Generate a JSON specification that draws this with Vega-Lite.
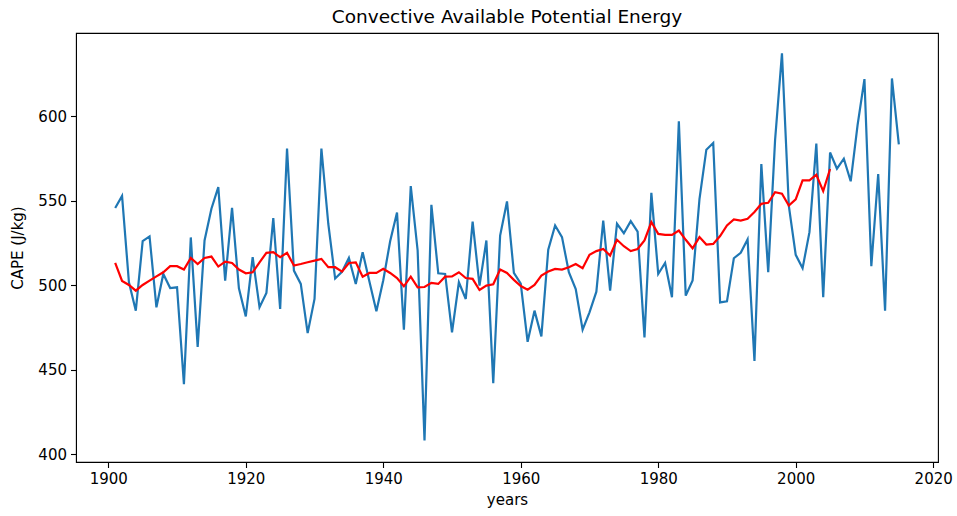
{
  "$schema": "https://vega.github.io/schema/vega-lite/v6.json",
  "width": 862,
  "height": 429,
  "autosize": {"type": "none"},
  "padding": {"left": 76, "top": 33, "right": 19, "bottom": 54},
  "background": "white",
  "title": {"text": "Convective Available Potential Energy", "fontSize": 18.5, "fontWeight": "normal", "font": "DejaVu Sans", "color": "black", "anchor": "middle", "offset": 7},
  "config": {
    "view": {"stroke": "black", "strokeWidth": 1.1},
    "axis": {
      "labelFont": "DejaVu Sans", "labelFontSize": 15, "labelColor": "black",
      "titleFont": "DejaVu Sans", "titleFontSize": 15, "titleFontWeight": "normal", "titleColor": "black",
      "domainColor": "black", "tickColor": "black", "tickSize": 5.5, "tickWidth": 1.1, "labelPadding": 4,
      "grid": false
    }
  },
  "datasets": {
    "cape": [
      {"year":1901,"cape":545.7},{"year":1902,"cape":552.8},{"year":1903,"cape":501.8},{"year":1904,"cape":485.0},{"year":1905,"cape":526.1},
      {"year":1906,"cape":528.9},{"year":1907,"cape":487.0},{"year":1908,"cape":506.7},{"year":1909,"cape":498.4},{"year":1910,"cape":498.8},
      {"year":1911,"cape":441.5},{"year":1912,"cape":528.3},{"year":1913,"cape":463.6},{"year":1914,"cape":526.5},{"year":1915,"cape":545.3},
      {"year":1916,"cape":558.1},{"year":1917,"cape":502.8},{"year":1918,"cape":545.8},{"year":1919,"cape":498.2},{"year":1920,"cape":481.6},
      {"year":1921,"cape":516.6},{"year":1922,"cape":487.0},{"year":1923,"cape":495.5},{"year":1924,"cape":539.7},{"year":1925,"cape":486.0},
      {"year":1926,"cape":580.8},{"year":1927,"cape":508.7},{"year":1928,"cape":500.8},{"year":1929,"cape":471.7},{"year":1930,"cape":491.9},
      {"year":1931,"cape":580.8},{"year":1932,"cape":536.4},{"year":1933,"cape":504.0},{"year":1934,"cape":508.0},{"year":1935,"cape":516.2},
      {"year":1936,"cape":500.8},{"year":1937,"cape":519.6},{"year":1938,"cape":502.0},{"year":1939,"cape":484.6},{"year":1940,"cape":503.0},
      {"year":1941,"cape":526.0},{"year":1942,"cape":543.0},{"year":1943,"cape":473.7},{"year":1944,"cape":558.7},{"year":1945,"cape":520.6},
      {"year":1946,"cape":408.3},{"year":1947,"cape":547.6},{"year":1948,"cape":507.1},{"year":1949,"cape":506.7},{"year":1950,"cape":472.1},
      {"year":1951,"cape":501.8},{"year":1952,"cape":491.9},{"year":1953,"cape":537.7},{"year":1954,"cape":499.8},{"year":1955,"cape":526.5},
      {"year":1956,"cape":442.1},{"year":1957,"cape":529.4},{"year":1958,"cape":549.6},{"year":1959,"cape":507.4},{"year":1960,"cape":501.0},
      {"year":1961,"cape":466.6},{"year":1962,"cape":485.0},{"year":1963,"cape":469.8},{"year":1964,"cape":521.1},{"year":1965,"cape":535.4},
      {"year":1966,"cape":528.5},{"year":1967,"cape":507.7},{"year":1968,"cape":497.8},{"year":1969,"cape":473.7},{"year":1970,"cape":484.0},
      {"year":1971,"cape":496.2},{"year":1972,"cape":538.3},{"year":1973,"cape":496.8},{"year":1974,"cape":536.4},{"year":1975,"cape":530.8},
      {"year":1976,"cape":537.9},{"year":1977,"cape":531.8},{"year":1978,"cape":469.2},{"year":1979,"cape":554.7},{"year":1980,"cape":506.7},
      {"year":1981,"cape":513.2},{"year":1982,"cape":492.9},{"year":1983,"cape":597.0},{"year":1984,"cape":493.9},{"year":1985,"cape":502.8},
      {"year":1986,"cape":551.0},{"year":1987,"cape":580.2},{"year":1988,"cape":584.2},{"year":1989,"cape":489.9},{"year":1990,"cape":490.5},
      {"year":1991,"cape":516.0},{"year":1992,"cape":519.2},{"year":1993,"cape":527.1},{"year":1994,"cape":455.3},{"year":1995,"cape":571.7},
      {"year":1996,"cape":507.7},{"year":1997,"cape":586.0},{"year":1998,"cape":637.2},{"year":1999,"cape":547.0},{"year":2000,"cape":518.0},
      {"year":2001,"cape":510.1},{"year":2002,"cape":531.4},{"year":2003,"cape":583.8},{"year":2004,"cape":492.9},{"year":2005,"cape":578.5},
      {"year":2006,"cape":569.0},{"year":2007,"cape":574.9},{"year":2008,"cape":561.5},{"year":2009,"cape":594.7},{"year":2010,"cape":621.9},
      {"year":2011,"cape":511.3},{"year":2012,"cape":565.8},{"year":2013,"cape":485.0},{"year":2014,"cape":622.3},{"year":2015,"cape":583.4}
    ],
    "rolling": [
      {"year":1901,"mean":513.2},{"year":1902,"mean":502.6},{"year":1903,"mean":500.2},{"year":1904,"mean":496.8},{"year":1905,"mean":500.2},
      {"year":1906,"mean":502.8},{"year":1907,"mean":505.3},{"year":1908,"mean":507.7},{"year":1909,"mean":511.3},{"year":1910,"mean":511.3},
      {"year":1911,"mean":509.3},{"year":1912,"mean":516.2},{"year":1913,"mean":512.6},{"year":1914,"mean":516.2},{"year":1915,"mean":517.0},
      {"year":1916,"mean":511.1},{"year":1917,"mean":514.0},{"year":1918,"mean":513.2},{"year":1919,"mean":509.3},{"year":1920,"mean":507.1},
      {"year":1921,"mean":507.7},{"year":1922,"mean":513.6},{"year":1923,"mean":519.2},{"year":1924,"mean":519.6},{"year":1925,"mean":516.6},
      {"year":1926,"mean":519.2},{"year":1927,"mean":511.7},{"year":1928,"mean":512.6},{"year":1929,"mean":513.6},{"year":1930,"mean":514.6},
      {"year":1931,"mean":515.6},{"year":1932,"mean":510.7},{"year":1933,"mean":510.7},{"year":1934,"mean":508.1},{"year":1935,"mean":513.2},
      {"year":1936,"mean":513.6},{"year":1937,"mean":505.1},{"year":1938,"mean":507.3},{"year":1939,"mean":507.3},{"year":1940,"mean":509.7},
      {"year":1941,"mean":507.3},{"year":1942,"mean":504.3},{"year":1943,"mean":499.4},{"year":1944,"mean":505.1},{"year":1945,"mean":498.8},
      {"year":1946,"mean":499.0},{"year":1947,"mean":501.4},{"year":1948,"mean":500.8},{"year":1949,"mean":505.1},{"year":1950,"mean":505.3},
      {"year":1951,"mean":507.7},{"year":1952,"mean":504.3},{"year":1953,"mean":503.8},{"year":1954,"mean":497.2},{"year":1955,"mean":499.8},
      {"year":1956,"mean":500.6},{"year":1957,"mean":509.3},{"year":1958,"mean":507.3},{"year":1959,"mean":503.2},{"year":1960,"mean":499.6},
      {"year":1961,"mean":497.4},{"year":1962,"mean":500.2},{"year":1963,"mean":505.7},{"year":1964,"mean":508.1},{"year":1965,"mean":509.7},
      {"year":1966,"mean":509.3},{"year":1967,"mean":510.7},{"year":1968,"mean":512.6},{"year":1969,"mean":510.1},{"year":1970,"mean":518.0},
      {"year":1971,"mean":520.2},{"year":1972,"mean":521.5},{"year":1973,"mean":517.6},{"year":1974,"mean":526.9},{"year":1975,"mean":523.1},
      {"year":1976,"mean":520.2},{"year":1977,"mean":521.5},{"year":1978,"mean":526.5},{"year":1979,"mean":537.4},{"year":1980,"mean":530.4},
      {"year":1981,"mean":529.8},{"year":1982,"mean":529.8},{"year":1983,"mean":532.4},{"year":1984,"mean":526.9},{"year":1985,"mean":521.9},
      {"year":1986,"mean":528.5},{"year":1987,"mean":524.1},{"year":1988,"mean":524.5},{"year":1989,"mean":529.1},{"year":1990,"mean":535.4},
      {"year":1991,"mean":539.0},{"year":1992,"mean":538.3},{"year":1993,"mean":539.3},{"year":1994,"mean":543.3},{"year":1995,"mean":548.2},
      {"year":1996,"mean":548.8},{"year":1997,"mean":555.1},{"year":1998,"mean":554.2},{"year":1999,"mean":547.2},{"year":2000,"mean":550.8},
      {"year":2001,"mean":562.1},{"year":2002,"mean":562.1},{"year":2003,"mean":565.4},{"year":2004,"mean":555.7},{"year":2005,"mean":568.8}
    ]
  },
  "layer": [
    {
      "data": {"name": "cape"},
      "mark": {"type": "line", "color": "#1f77b4", "strokeWidth": 2.2, "clip": true},
      "encoding": {
        "x": {"field": "year", "type": "quantitative", "scale": {"domain": [1895.3, 2020.7], "nice": false, "zero": false},
              "axis": {"values": [1900,1920,1940,1960,1980,2000,2020], "format": "d", "title": "years", "titlePadding": 6}},
        "y": {"field": "cape", "type": "quantitative", "scale": {"domain": [395.5, 649.2], "nice": false, "zero": false},
              "axis": {"values": [400,450,500,550,600], "format": "d", "title": "CAPE (J/kg)", "titlePadding": 12}}
      }
    },
    {
      "data": {"name": "rolling"},
      "mark": {"type": "line", "color": "red", "strokeWidth": 2.2, "clip": true},
      "encoding": {
        "x": {"field": "year", "type": "quantitative"},
        "y": {"field": "mean", "type": "quantitative"}
      }
    }
  ]
}
